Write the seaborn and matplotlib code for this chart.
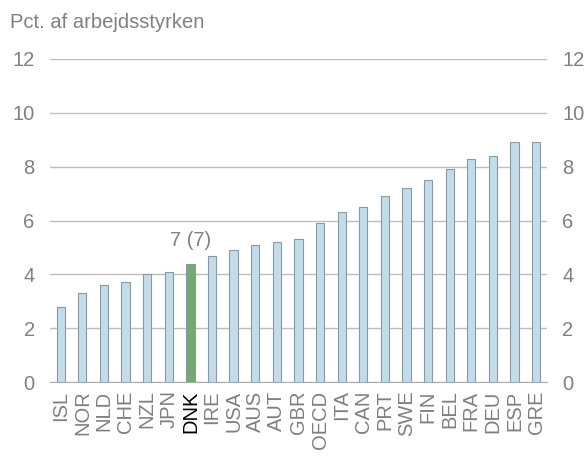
import matplotlib
matplotlib.use('Agg')
import matplotlib.pyplot as plt
import seaborn as sns
import pandas as pd
import numpy as np

# data
countries = ['ISL', 'NOR', 'NLD', 'CHE', 'NZL', 'JPN', 'DNK', 'IRE', 'USA', 'AUS', 'AUT', 'GBR',
             'OECD', 'ITA', 'CAN', 'PRT', 'SWE', 'FIN', 'BEL', 'FRA', 'DEU', 'ESP', 'GRE']
values = [2.8, 3.3, 3.6, 3.7, 4.0, 4.1, 4.4, 4.7, 4.9, 5.1, 5.2, 5.3,
          5.9, 6.3, 6.5, 6.9, 7.2, 7.5, 7.9, 8.3, 8.4, 8.9, 8.9]
highlight = 'DNK'
note = '7 (7)'
yticks = [0, 2, 4, 6, 8, 10, 12]

sns.set_style('white')
plt.rcParams['font.family'] = ['Liberation Sans', 'DejaVu Sans']

grey = '#808080'
fs = 14.5
df = pd.DataFrame({'land': countries, 'pct': values})
colors = ['#74a973' if c == highlight else '#c2dce9' for c in countries]

fig = plt.figure(figsize=(5.88, 4.57), dpi=100)
ax = fig.add_axes([0.085, 0.164, 0.845, 0.707])

sns.barplot(data=df, x='land', y='pct', hue='land', palette=colors, legend=False,
            saturation=1, width=0.38, edgecolor='#8c98a2', linewidth=0.8, ax=ax, zorder=3)

ax.set_ylim(0, 12)
ax.set_xlim(-0.5, len(countries) - 0.5)
ax.set_yticks(yticks)
ax.yaxis.grid(True, color='#bdbdbd', linewidth=1, zorder=0)
ax.tick_params(axis='y', length=0, labelsize=fs, colors=grey, labelright=True, pad=11)
ax.set_xlabel('')
ax.set_ylabel('')

# x labels, ticks sit between the bars
ax.set_xticks(range(len(countries)))
ax.set_xticklabels(countries, rotation=90, fontsize=fs, color=grey)
ax.tick_params(axis='x', which='major', length=0, pad=6)
ax.set_xticks(np.arange(-0.5, len(countries), 1), minor=True)
ax.tick_params(axis='x', which='minor', length=5, color='#aaaaaa', width=1)
for lbl in ax.get_xticklabels():
    if lbl.get_text() == highlight:
        lbl.set_color('black')

for s in ['top', 'left', 'right']:
    ax.spines[s].set_visible(False)
ax.spines['bottom'].set_color('#aaaaaa')

i = countries.index(highlight)
ax.text(i, values[i] + 0.5, note, ha='center', va='bottom', fontsize=fs, color=grey)

fig.text(0.017, 0.95, 'Pct. af arbejdsstyrken', fontsize=fs, color=grey, va='center')

plt.savefig('out.png', dpi=100)
